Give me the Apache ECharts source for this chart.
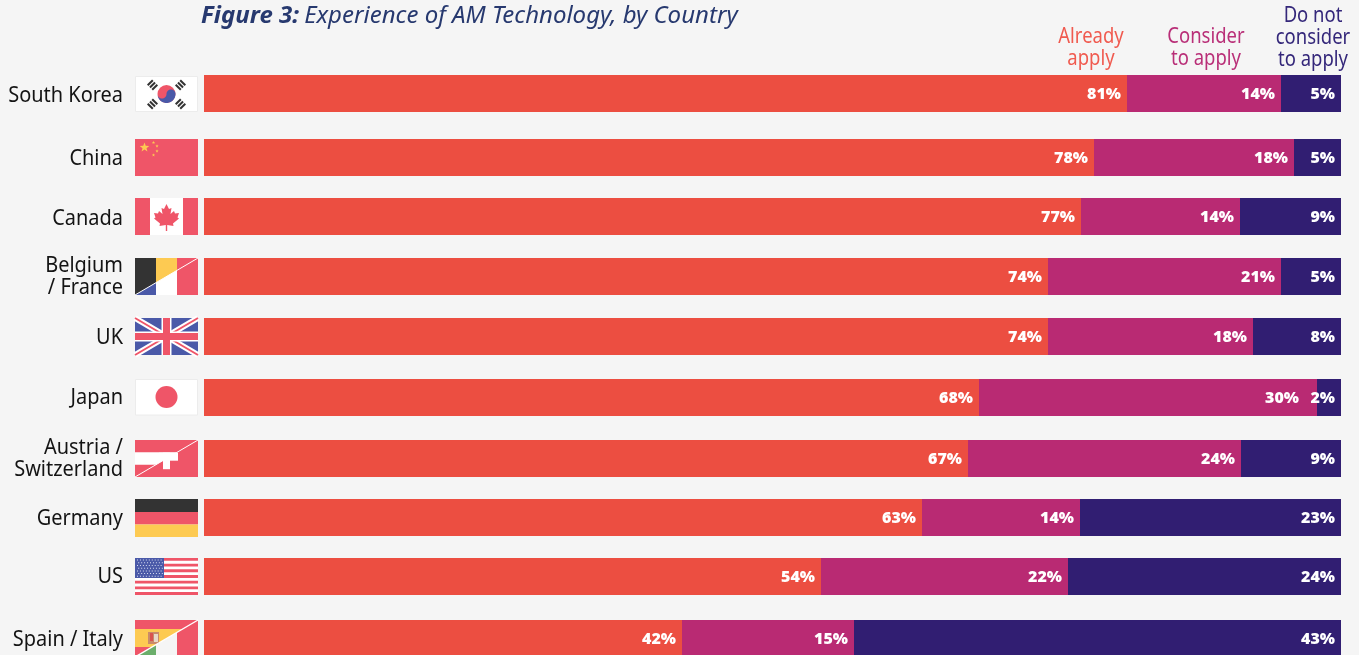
<!DOCTYPE html>
<html>
<head>
<meta charset="utf-8">
<title>Experience of AM Technology, by Country</title>
<script src="https://cdn.jsdelivr.net/npm/echarts@6/dist/echarts.min.js"></script>
<style>
  html, body { margin: 0; padding: 0; background: #f5f5f5; }
  #chart { width: 1359px; height: 655px; }
</style>
</head>
<body>
<div id="chart"></div>
<script>
const categories = ['South Korea', 'China', 'Canada', 'Belgium\n/ France', 'UK', 'Japan', 'Austria /\nSwitzerland', 'Germany', 'US', 'Spain / Italy']

// bar lengths as drawn in the picture (the printed labels are rounded and do not always add to 100)
const alreadyApply = [81.15, 78.25, 77.1, 74.2, 74.2, 68.15, 67.2, 63.15, 54.25, 42.0]
const considerApply = [13.55, 17.6, 14.0, 20.5, 18.1, 29.75, 24.0, 13.9, 21.75, 15.2]
const doNotConsider = [5.3, 4.15, 8.9, 5.3, 7.7, 2.1, 8.8, 22.95, 24.0, 42.8]

const alreadyLabels = ['81%', '78%', '77%', '74%', '74%', '68%', '67%', '63%', '54%', '42%']
const considerLabels = ['14%', '18%', '14%', '21%', '18%', '30%', '24%', '14%', '22%', '15%']
const doNotLabels = ['5%', '5%', '9%', '5%', '8%', '2%', '9%', '23%', '24%', '43%']

const flagKeys = ['kr', 'cn', 'ca', 'befr', 'uk', 'jp', 'atch', 'de', 'us', 'esit']

// the rows are not evenly spaced in the original
const rowNudge = [0, 3.4, 1.9, 1.3, 0.8, 1.2, 1.7, 0.1, -1.4, 0]
// names don't sit exactly on the bar's centre either
const nameNudge = [3, 2, 3, 1, 2, 1, 1, 2, 1, 2]

const FONT = '"Noto Sans", sans-serif'
const BAR_H = 37
const FLAG_W = 63
const FLAG_X = 135
const RED = '#ef5568'
const BLUE = '#4a59a8'
const YELLOW = '#fdca52'
const DARK = '#333333'
const GREEN = '#6bae6b'
const WHITE = '#ffffff'
const PAPER = '#f5f5f5'

function rowY(api, idx) {
  return Math.round(api.coord([0, idx])[1] + rowNudge[idx] - BAR_H / 2)
}

function rect(x, y, width, height, fill) {
  return { type: 'rect', shape: { x, y, width, height }, style: { fill } }
}
function poly(points, fill) {
  return { type: 'polygon', shape: { points }, style: { fill } }
}
function circle(cx, cy, r, fill) {
  return { type: 'circle', shape: { cx, cy, r }, style: { fill } }
}
function line(x1, y1, x2, y2, stroke, lineWidth) {
  return { type: 'line', shape: { x1, y1, x2, y2 }, style: { stroke, lineWidth, fill: null } }
}
function star(cx, cy, r, fill) {
  const pts = []
  for (let i = 0; i < 10; i++) {
    const a = -Math.PI / 2 + i * Math.PI / 5
    const rr = i % 2 ? r * 0.42 : r
    pts.push([cx + rr * Math.cos(a), cy + rr * Math.sin(a)])
  }
  return poly(pts, fill)
}
function trigram(cx, cy, angle) {
  return {
    type: 'group', x: cx, y: cy, rotation: angle,
    children: [0, 1, 2].map(i => rect(-3.6, -4.2 + i * 3.2, 7.2, 2, DARK))
  }
}
// lower half of the taegeuk, as an s-shaped top edge plus the big lower arc
function taegeukLower(cx, cy, r) {
  const pts = []
  const small = r / 2
  for (let i = 0; i <= 16; i++) {
    const a = Math.PI - i * Math.PI / 16
    pts.push([cx - small + small * Math.cos(a), cy + small * Math.sin(a)])
  }
  for (let i = 0; i <= 16; i++) {
    const a = Math.PI + i * Math.PI / 16
    pts.push([cx + small + small * Math.cos(a), cy + small * Math.sin(a)])
  }
  for (let i = 0; i <= 32; i++) {
    const a = i * Math.PI / 32
    pts.push([cx + r * Math.cos(a), cy + r * Math.sin(a)])
  }
  return pts
}

const flags = {
  kr() {
    return [
      { type: 'rect', shape: { x: 0.5, y: 1.5, width: 62, height: 35 }, style: { fill: WHITE, stroke: '#ececec', lineWidth: 1 } },
      circle(31.5, 19, 9, RED),
      poly(taegeukLower(31.5, 19, 9), BLUE),
      trigram(17.5, 10, Math.PI / 4),
      trigram(45.5, 10, -Math.PI / 4),
      trigram(17.5, 29, -Math.PI / 4),
      trigram(45.5, 29, Math.PI / 4)
    ]
  },
  cn() {
    return [
      rect(0, 0, FLAG_W, BAR_H, RED),
      star(9.5, 8.5, 5, YELLOW),
      star(18.5, 3.5, 1.7, YELLOW),
      star(22, 7, 1.7, YELLOW),
      star(22, 12, 1.7, YELLOW),
      star(18.5, 16, 1.7, YELLOW)
    ]
  },
  ca() {
    const leaf = [[31.5, 6], [34, 11], [36.5, 10], [35.5, 16], [39, 13], [40, 15.5], [44, 15], [42.5, 19.5], [44, 20.5], [38, 25.5], [38.5, 28], [32.2, 27], [32.2, 33], [30.8, 33], [30.8, 27], [24.5, 28], [25, 25.5], [19, 20.5], [20.5, 19.5], [19, 15], [23, 15.5], [24, 13], [27.5, 16], [26.5, 10], [29, 11]]
    return [rect(0, 0, FLAG_W, BAR_H, RED), rect(15, 0, 33, BAR_H, WHITE), poly(leaf, RED)]
  },
  befr() {
    return [
      rect(0, 0, 21, BAR_H, BLUE), rect(21, 0, 21, BAR_H, WHITE), rect(42, 0, 21, BAR_H, RED),
      poly([[0, 0], [21, 0], [21, 24.7], [0, 37]], DARK),
      poly([[21, 0], [42, 0], [42, 12.3], [21, 24.7]], YELLOW),
      poly([[42, 0], [63, 0], [42, 12.3]], RED),
      line(0, 37, 63, 0, WHITE, 1)
    ]
  },
  uk() {
    return [
      rect(0, 0, FLAG_W, BAR_H, BLUE),
      line(0, 0, 63, 37, WHITE, 6), line(63, 0, 0, 37, WHITE, 6),
      line(0, 0, 63, 37, RED, 2), line(63, 0, 0, 37, RED, 2),
      rect(0, 13.5, FLAG_W, 10, WHITE), rect(26.5, 0, 10, BAR_H, WHITE),
      rect(0, 15, FLAG_W, 7, RED), rect(28, 0, 7, BAR_H, RED)
    ]
  },
  jp() {
    return [
      { type: 'rect', shape: { x: 0.5, y: 0.5, width: 62, height: 35.5 }, style: { fill: WHITE, stroke: '#ececec', lineWidth: 1 } },
      circle(31.5, 18, 11, RED)
    ]
  },
  atch() {
    return [
      rect(0, 0, FLAG_W, BAR_H, RED),
      poly([[0, 12.3], [42, 12.3], [21, 24.7], [0, 24.7]], WHITE),
      rect(24, 12.7, 19, 8, WHITE),
      rect(28, 12.7, 7, 16.5, WHITE),
      line(0, 37, 63, 0, WHITE, 1)
    ]
  },
  de() {
    return [rect(0, 0, FLAG_W, 13, DARK), rect(0, 13, FLAG_W, 12.5, RED), rect(0, 25.5, FLAG_W, 12.5, YELLOW)]
  },
  us() {
    const out = [rect(0, 0, FLAG_W, BAR_H, WHITE)]
    for (let i = 0; i < 7; i++) out.push(rect(0, i * 5.68, FLAG_W, 2.84, RED))
    out.push(rect(0, 0, 29, 20, BLUE))
    for (let r = 0; r < 7; r++) {
      for (let c = 0; c < 9; c++) {
        out.push(rect(2 + c * 2.95 + (r % 2) * 1.2, 1.6 + r * 2.7, 1, 1, '#d8dcf0'))
      }
    }
    return out
  },
  esit() {
    return [
      rect(0, 0, 21, BAR_H, GREEN), rect(21, 0, 21, BAR_H, PAPER), rect(42, 0, 21, BAR_H, RED),
      poly([[0, 0], [63, 0], [0, 37]], RED),
      poly([[0, 9], [47.7, 9], [17, 27], [0, 27]], YELLOW),
      rect(13, 12, 11, 12, '#c98a6a'),
      rect(15, 13, 3, 8, '#d9534f'),
      rect(19, 14, 4, 8, '#e8d8c8'),
      line(0, 37, 63, 0, WHITE, 1.4)
    ]
  }
}

// one custom series per answer, stacked by hand so rows can keep their uneven spacing
function barSeries(name, values, labels, color, before) {
  return {
    name,
    type: 'custom',
    clip: false,
    silent: true,
    data: values.map((v, i) => [before[i], before[i] + v, i]),
    encode: { x: [0, 1], y: 2 },
    renderItem(params, api) {
      const idx = api.value(2)
      const x0 = Math.round(api.coord([api.value(0), idx])[0])
      const x1 = Math.round(api.coord([api.value(1), idx])[0])
      const y = rowY(api, idx)
      // the 30% label sits further left in the original, making room for the 2%
      const shift = name === 'Consider to apply' && idx === 5 ? -12 : 0
      return {
        type: 'group',
        children: [
          rect(x0, y, x1 - x0, BAR_H, color),
          {
            type: 'text',
            style: {
              text: labels[idx],
              x: x1 - 6 + shift,
              y: y + BAR_H / 2 + 1,
              align: 'right',
              verticalAlign: 'middle',
              fill: '#ffffff',
              font: '800 16px "Open Sans", sans-serif'
            }
          }
        ]
      }
    }
  }
}

function header(text, x, y, fill) {
  return { type: 'text', x, y, scaleX: 0.88, style: { text, align: 'center', lineHeight: 22, fill, font: '21px ' + FONT } }
}

const afterAlready = alreadyApply.slice()
const afterConsider = alreadyApply.map((v, i) => v + considerApply[i])

const chart = echarts.init(document.getElementById('chart'))
chart.setOption({
  animation: false,
  backgroundColor: '#f5f5f5',
  title: {
    text: '{b|Figure 3:} {i|Experience of AM Technology, by Country}',
    left: 201,
    top: 4,
    padding: 0,
    textStyle: {
      rich: {
        b: { fontFamily: FONT, fontSize: 24, fontWeight: 'bold', fontStyle: 'italic', color: '#27396f' },
        i: { fontFamily: FONT, fontSize: 24, fontWeight: 'normal', fontStyle: 'italic', color: '#27396f' }
      }
    }
  },
  // boundaryGap off puts the first and last rows exactly on the grid's edges
  grid: { left: 204, top: 93.5, width: 1137, height: 545 },
  xAxis: { type: 'value', min: 0, max: 100, show: false },
  yAxis: { type: 'category', data: categories, inverse: true, boundaryGap: false, show: false },
  graphic: [
    header('Already\napply', 1091, 26, '#f05a4f'),
    header('Consider\nto apply', 1206, 26, '#b92f78'),
    header('Do not\nconsider\nto apply', 1313, 5, '#34277a')
  ],
  series: [
    barSeries('Already apply', alreadyApply, alreadyLabels, '#ec4e41', categories.map(() => 0)),
    barSeries('Consider to apply', considerApply, considerLabels, '#b92a73', afterAlready),
    barSeries('Do not consider to apply', doNotConsider, doNotLabels, '#311e72', afterConsider),
    {
      // country names and flags, one row each
      type: 'custom',
      clip: false,
      silent: true,
      data: categories.map((c, i) => [0, i]),
      encode: { x: 0, y: 1 },
      renderItem(params, api) {
        const idx = api.value(1)
        const y = rowY(api, idx)
        return {
          type: 'group',
          children: [
            {
              type: 'text',
              x: 123,
              y: y + BAR_H / 2 + nameNudge[idx],
              scaleX: 0.95,
              style: {
                text: categories[idx],
                x: 0,
                y: 0,
                align: 'right',
                verticalAlign: 'middle',
                lineHeight: 22,
                fill: '#141414',
                font: '21px ' + FONT
              }
            },
            { type: 'group', x: FLAG_X, y, children: flags[flagKeys[idx]]() }
          ]
        }
      }
    }
  ]
})
</script>
</body>
</html>
